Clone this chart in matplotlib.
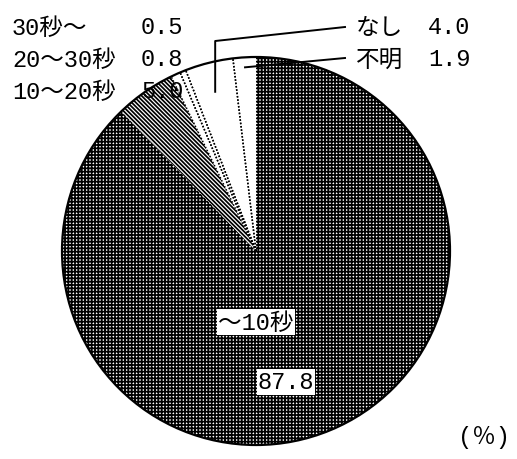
import numpy as np
import matplotlib
matplotlib.use('Agg')
import matplotlib.pyplot as plt
from matplotlib.patches import Circle

# monospaced digits, Japanese glyphs from the CJK family
plt.rcParams['font.family'] = ['Liberation Mono', 'Noto Sans CJK JP', 'DejaVu Sans']
plt.rcParams['hatch.linewidth'] = 1.25

labels = ['～10秒', '10～20秒', '20～30秒', '30秒～', 'なし', '不明']
values = [87.8, 5.0, 0.8, 0.5, 4.0, 1.9]
hatches = ['+++++', '\\' * 8, '', '', '', '']

W, H = 517, 460
cx, cy, R = 256, H - 252, 194

fig = plt.figure(figsize=(W / 100, H / 100), dpi=100)
ax = fig.add_axes([0, 0, 1, 1])

wedges, _ = ax.pie(values, startangle=90, counterclock=False, center=(cx, cy),
                   radius=R, colors=['white'] * len(values),
                   wedgeprops=dict(linewidth=0, edgecolor='black'))
for w, h in zip(wedges, hatches):
    w.set_hatch(h)
    w.set_edgecolor('black')
    w.set_linewidth(0)

# pie() sets its own limits, so fix the canvas afterwards
ax.set_xlim(0, W)
ax.set_ylim(0, H)
ax.set_aspect('equal')
ax.axis('off')

# dotted radii between the white slices
for w in wedges[2:]:
    for ang in (w.theta1, w.theta2):
        if abs(((ang - 90) + 180) % 360 - 180) < 0.1:
            continue
        t = np.deg2rad(ang)
        ax.plot([cx, cx + R * np.cos(t)], [cy, cy + R * np.sin(t)],
                ls=(0, (1, 1.2)), color='black', lw=1.1)
ax.add_patch(Circle((cx, cy), R, fill=False, ec='black', lw=1.6))

fs = 17
tkw = dict(fontsize=fs, va='center', ha='left')

# left labels
for i, yy in zip([3, 2, 1], [28, 60, 92]):
    ax.text(12, H - yy, labels[i], **tkw)
    ax.text(141, H - yy, f'{values[i]:.1f}', **tkw)

# right labels with leader lines
def mid_point(w, r):
    t = np.deg2rad((w.theta1 + w.theta2) / 2)
    return cx + r * np.cos(t), cy + r * np.sin(t)

x0, y0 = mid_point(wedges[4], 160)
ax.plot([x0 - 2, x0 - 2, 345], [y0 + 4, H - 42, H - 28], color='black', lw=1.4)
x1, y1 = mid_point(wedges[5], 184)
ax.plot([x1, 345], [y1, H - 59], color='black', lw=1.4)
for i, yy in zip([4, 5], [28, 60]):
    ax.text(356, H - yy, labels[i], **tkw)
    ax.text(428, H - yy, f'{values[i]:.1f}', **tkw)

box = dict(boxstyle='square,pad=0.05', fc='white', ec='none')
ckw = dict(tkw, ha='center', bbox=box)
ax.text(256, H - 323, labels[0], **ckw)
ax.text(286, H - 383, f'{values[0]:.1f}', **ckw)

ax.text(484, H - 438, '(％)', **dict(tkw, ha='center'))

fig.savefig('out.png', dpi=100)
